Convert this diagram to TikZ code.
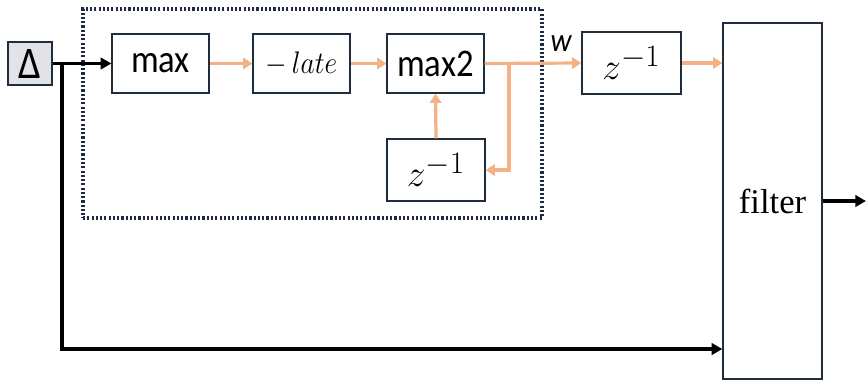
\documentclass[tikz,border=0pt]{standalone}
\usepackage{fontspec}
\setmainfont{Liberation Serif}
\newfontfamily\carlitofont{Carlito}
\usetikzlibrary{arrows.meta,calc}
\definecolor{edge}{HTML}{1F2D3D}
\definecolor{dotc}{HTML}{1F2A44}
\definecolor{orng}{HTML}{F4B183}
\definecolor{dgray}{HTML}{E2E3E8}
\newcommand{\vstr}[1]{\scalebox{1}[1.13]{#1}}
\tikzset{
  box/.style={draw=edge, line width=0.9pt, inner sep=0pt, minimum width=97*0.75pt, minimum height=59*0.75pt},
  blk/.style={line width=2.4pt, black, -{Triangle[length=8pt,width=8.5pt]}},
  org/.style={line width=2.4pt, orng, -{Triangle[length=7pt,width=8.5pt]}},
  sans/.style={font=\carlitofont\fontsize{26}{30}\selectfont},
}
\newcommand{\zinv}{\fontsize{24}{28}\selectfont\scalebox{1.13}{$z^{\mbox{\fontsize{20}{22}\selectfont$-1$}}$}}
\begin{document}
\begin{tikzpicture}[x=0.75pt,y=-0.75pt]
\useasboundingbox (0,0) rectangle (867,383);
% dotted frame
\node[draw=dotc, line width=2.3pt, dash pattern=on 1.6pt off 1.6pt, minimum width=459*0.75pt, minimum height=209*0.75pt, inner sep=0pt] (frame) at (312.5,113.5) {};
% nodes
\node[box, fill=dgray, minimum width=44*0.75pt, minimum height=43*0.75pt, sans] (delta) at (30,63.5) {\fontsize{30}{32}\selectfont\vstr{Δ}};
\node[box, sans] (max) at (160.5,63.5) {\vstr{max}};
\node[box] (late) at (301.5,63.5) {\fontsize{21}{26}\selectfont\vstr{$-\,late$}};
\node[box, sans] (max2) at (435.5,63.5) {\vstr{max2}};
\node[box, minimum width=98*0.75pt, minimum height=62*0.75pt] (zin) at (436,170) {\zinv};
\node[box, minimum width=99*0.75pt, minimum height=62*0.75pt] (zout) at (631.5,63) {\zinv};
\node[box, minimum width=99*0.75pt, minimum height=356*0.75pt] (filter) at (772.5,201) {\fontsize{26}{30}\selectfont filter};
% coordinates
\coordinate (br) at (62,63.5);
\coordinate (lowy) at (0,349);
\coordinate (sp) at (509,63.5);
\coordinate (out) at (866,201);
\node[font=\carlitofont\itshape\fontsize{22}{24}\selectfont, inner sep=0pt] (wlab) at (561,44) {\vstr{w}};
% black connectors
\draw[blk] (delta.east) -- (max.west);
\draw[blk] (br) |- (filter.west |- lowy);
\draw[blk] (filter.east) -- (out);
% orange connectors
\draw[org] (max.east) -- (late.west);
\draw[org] (late.east) -- (max2.west);
\draw[org] (max2.east) -- (zout.west);
\draw[org] (sp) |- (zin.east);
\draw[org] (zin.north) -- (max2.south);
\draw[org] (zout.east) -- (filter.west |- zout.east);
\end{tikzpicture}
\end{document}
